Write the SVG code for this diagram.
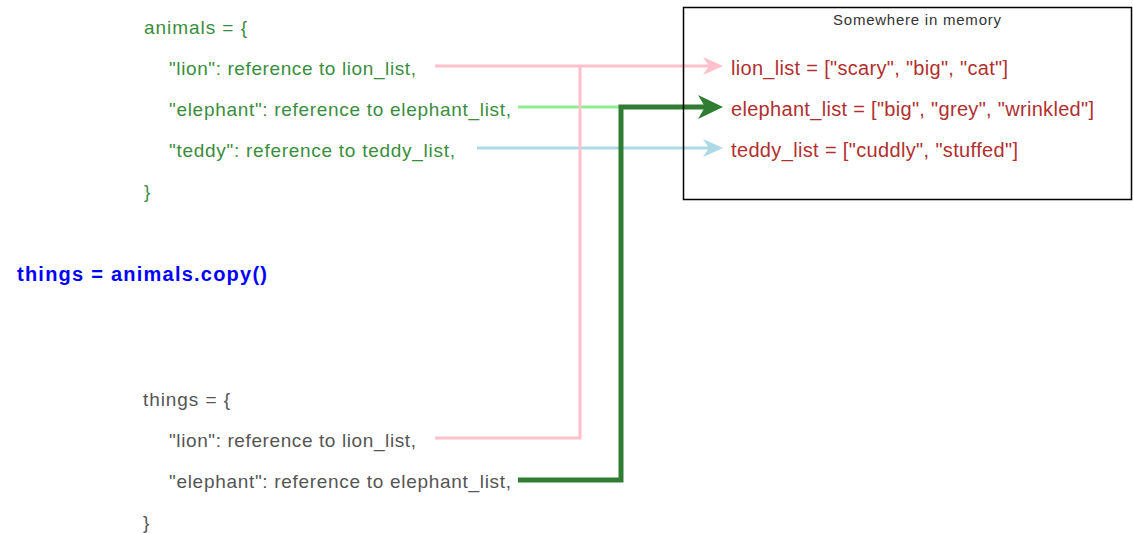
<svg xmlns="http://www.w3.org/2000/svg" width="1133" height="533" viewBox="0 0 1133 533">
  <style>
    .code { font-family: "Liberation Sans", Arial, sans-serif; font-size: 19px; }
    .green { fill: #3a8d3e; }
    .gray { fill: #555555; }
    .red { fill: #b03030; font-size: 20px; }
    .cmd { font-family: "Liberation Sans", Arial, sans-serif; font-size: 20px; font-weight: bold; fill: #0000ff; }
    .title { font-family: "Liberation Sans", Arial, sans-serif; font-size: 15px; fill: #333333; }
    .wire { fill: none; stroke-linejoin: miter; stroke-linecap: butt; }
  </style>
  <defs>
    <marker id="arrowPink" viewBox="0 0 20 18" refX="6" refY="9" markerWidth="20" markerHeight="18" markerUnits="userSpaceOnUse" orient="auto">
      <path d="M0,0 L20,9 L0,18 L6,9 Z" fill="#ffc0cb"/>
    </marker>
    <marker id="arrowBlue" viewBox="0 0 20 18" refX="6" refY="9" markerWidth="20" markerHeight="18" markerUnits="userSpaceOnUse" orient="auto">
      <path d="M0,0 L20,9 L0,18 L6,9 Z" fill="#add8e6"/>
    </marker>
    <marker id="arrowDark" viewBox="0 0 25 24" refX="7" refY="12" markerWidth="25" markerHeight="24" markerUnits="userSpaceOnUse" orient="auto">
      <path d="M0,0 L25,12 L0,24 L7,12 Z" fill="#2e7d32"/>
    </marker>
  </defs>

  <rect x="0" y="0" width="1133" height="533" fill="#ffffff"/>

  <!-- dictionary literal: animals -->
  <g id="animals">
    <text class="code green" x="144" y="34" textLength="103" lengthAdjust="spacing">animals = {</text>
    <text class="code green" x="169" y="75" textLength="247" lengthAdjust="spacing">"lion": reference to lion_list,</text>
    <text class="code green" x="169" y="116" textLength="342" lengthAdjust="spacing">"elephant": reference to elephant_list,</text>
    <text class="code green" x="169" y="157" textLength="286" lengthAdjust="spacing">"teddy": reference to teddy_list,</text>
    <text class="code green" x="144" y="198">}</text>
  </g>

  <!-- the copy statement -->
  <g id="copy-call">
    <text class="cmd" x="17" y="281" textLength="250" lengthAdjust="spacing">things = animals.copy()</text>
  </g>

  <!-- dictionary literal: things -->
  <g id="things">
    <text class="code gray" x="143" y="406" textLength="87" lengthAdjust="spacing">things = {</text>
    <text class="code gray" x="169" y="447" textLength="247" lengthAdjust="spacing">"lion": reference to lion_list,</text>
    <text class="code gray" x="169" y="488" textLength="342" lengthAdjust="spacing">"elephant": reference to elephant_list,</text>
    <text class="code gray" x="143" y="529">}</text>
  </g>

  <!-- references from dictionary entries to the lists -->
  <g id="connectors">
    <path class="wire" d="M518,107 H620" stroke="#90ee90" stroke-width="3"/>
    <path class="wire" d="M477,148 H709" stroke="#add8e6" stroke-width="3" marker-end="url(#arrowBlue)"/>
    <path class="wire" d="M435,438 H580 V66" stroke="#ffc0cb" stroke-width="3"/>
    <path class="wire" d="M435,66 H709" stroke="#ffc0cb" stroke-width="3" marker-end="url(#arrowPink)"/>
    <path class="wire" d="M518,480 H621 V107 H705" stroke="#2e7d32" stroke-width="5" marker-end="url(#arrowDark)"/>
  </g>

  <!-- the list objects -->
  <g id="memory">
    <rect x="683.5" y="7.5" width="448" height="192" fill="none" stroke="#000000" stroke-width="1.5"/>
    <text class="title" x="833" y="25" textLength="168" lengthAdjust="spacing">Somewhere in memory</text>
  </g>
  <g id="lion_list">
    <text class="code red" x="731" y="75" textLength="277" lengthAdjust="spacing">lion_list = ["scary", "big", "cat"]</text>
  </g>
  <g id="elephant_list">
    <text class="code red" x="731" y="116" textLength="363" lengthAdjust="spacing">elephant_list = ["big", "grey", "wrinkled"]</text>
  </g>
  <g id="teddy_list">
    <text class="code red" x="731" y="157" textLength="287" lengthAdjust="spacing">teddy_list = ["cuddly", "stuffed"]</text>
  </g>
</svg>
